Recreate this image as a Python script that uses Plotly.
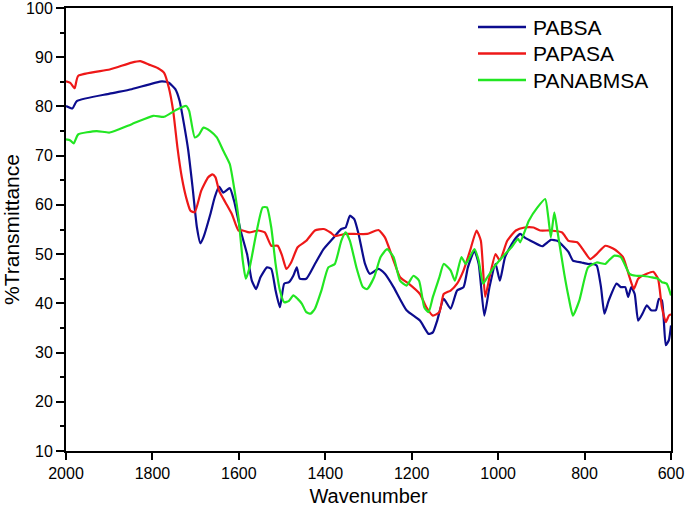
import plotly.graph_objects as go

# ---- data ----
pabsa_x = [2000, 1985, 1975, 1899, 1848, 1778, 1762, 1747, 1737, 1727, 1717, 1707, 1697, 1689, 1682,
           1666, 1656, 1646, 1636, 1621, 1611, 1596, 1581, 1570, 1560, 1550, 1535, 1525, 1515, 1505,
           1495, 1484, 1474, 1466, 1459, 1444, 1424, 1404, 1383, 1363, 1353, 1343, 1333, 1323, 1308,
           1297, 1277, 1262, 1242, 1212, 1181, 1161, 1151, 1141, 1126, 1110, 1095, 1080, 1070, 1055,
           1045, 1032, 1020, 1006, 996, 984, 964, 949, 939, 918, 898, 878, 863, 847, 837, 827, 807,
           792, 782, 772, 762, 754, 744, 726, 716, 706, 699, 692, 684, 676, 666, 656, 646, 635, 628,
           621, 612, 605, 600]
pabsa_y = [80.1, 79.6, 81.1, 82.6, 83.5, 85.1, 84.8, 83.5, 81.1, 76.4, 71.0, 63.5, 55.4, 52.2, 53.4,
           58.1, 61.5, 63.7, 62.5, 63.4, 60.8, 54.8, 50.0, 44.6, 42.9, 45.3, 47.3, 47.0, 42.6, 39.2,
           44.0, 44.3, 45.6, 47.3, 45.0, 45.0, 48.0, 51.0, 53.1, 55.1, 55.4, 57.8, 57.1, 54.1, 48.0,
           46.0, 47.0, 46.0, 43.3, 38.6, 36.5, 33.8, 34.1, 36.5, 40.9, 38.9, 42.6, 43.3, 47.3, 50.7,
           48.0, 37.5, 43.3, 48.0, 44.6, 49.4, 52.7, 54.1, 53.4, 52.4, 51.6, 52.9, 52.7, 51.4, 50.4,
           48.7, 48.3, 48.0, 48.0, 47.7, 43.3, 37.9, 40.6, 44.0, 43.3, 43.3, 41.3, 43.3, 41.9, 36.5,
           37.9, 39.6, 38.6, 38.6, 40.9, 40.6, 31.5, 32.5, 35.5]

papasa_x = [2000, 1990, 1980, 1972, 1899, 1848, 1828, 1808, 1788, 1773, 1762, 1752, 1742, 1732, 1722,
            1712, 1702, 1687, 1671, 1661, 1654, 1646, 1631, 1616, 1601, 1591, 1576, 1555, 1540, 1525,
            1510, 1500, 1490, 1479, 1464, 1444, 1424, 1404, 1388, 1378, 1353, 1333, 1303, 1277, 1262,
            1242, 1227, 1207, 1181, 1166, 1151, 1136, 1126, 1110, 1095, 1080, 1065, 1050, 1040, 1030,
            1020, 1006, 996, 979, 959, 939, 918, 903, 878, 852, 837, 817, 802, 787, 772, 752, 731, 711,
            696, 686, 676, 656, 641, 630, 621, 612, 605, 600]
papasa_y = [85.1, 84.8, 83.7, 86.2, 87.5, 88.9, 89.2, 88.5, 87.8, 86.8, 83.8, 79.1, 71.6, 65.6, 61.5,
            58.8, 58.5, 62.9, 65.6, 66.2, 65.6, 62.9, 60.5, 58.1, 54.8, 54.8, 54.4, 54.8, 54.4, 51.7,
            51.7, 49.7, 47.0, 48.3, 51.4, 52.7, 54.8, 55.1, 54.4, 53.7, 54.1, 54.1, 54.1, 54.9, 53.4,
            48.7, 45.3, 44.0, 41.9, 39.2, 37.5, 38.2, 41.9, 42.6, 44.0, 46.7, 50.7, 54.8, 52.7, 41.3,
            45.3, 50.0, 48.7, 52.7, 54.8, 55.4, 55.4, 54.8, 54.8, 54.4, 52.7, 52.4, 50.7, 49.0, 50.0,
            51.7, 51.0, 49.4, 45.3, 42.9, 45.0, 46.0, 46.4, 45.0, 39.2, 36.2, 37.5, 37.8]

panabmsa_x = [2000, 1990, 1982, 1972, 1929, 1899, 1848, 1798, 1773, 1747, 1722, 1715, 1702, 1692, 1682,
              1666, 1651, 1636, 1621, 1611, 1601, 1591, 1584, 1575, 1560, 1545, 1535, 1525, 1515, 1505,
              1495, 1484, 1474, 1464, 1454, 1444, 1434, 1424, 1409, 1393, 1378, 1363, 1353, 1343, 1328,
              1313, 1303, 1287, 1272, 1257, 1242, 1227, 1212, 1196, 1183, 1171, 1161, 1151, 1136, 1126,
              1110, 1100, 1085, 1075, 1055, 1045, 1035, 1025, 1010, 990, 969, 954, 949, 929, 909, 891,
              884, 878, 870, 863, 847, 837, 827, 812, 792, 772, 752, 744, 731, 716, 696, 681, 666, 646,
              630, 621, 610, 600]
panabmsa_y = [73.3, 73.1, 72.5, 74.3, 75.0, 74.7, 76.4, 78.1, 77.9, 79.2, 80.1, 79.1, 73.7, 74.3, 75.7,
              75.0, 73.7, 71.0, 68.3, 63.5, 57.5, 48.7, 45.0, 47.3, 54.1, 59.5, 59.5, 55.4, 48.0, 42.6,
              40.2, 40.5, 41.6, 40.9, 39.9, 38.2, 37.9, 38.9, 42.6, 47.3, 48.0, 52.7, 54.4, 52.7, 47.3,
              43.3, 42.9, 45.3, 49.4, 51.0, 49.4, 44.6, 43.6, 45.6, 44.6, 39.2, 38.2, 41.3, 45.3, 48.0,
              46.7, 44.6, 49.4, 48.0, 51.0, 48.7, 44.0, 45.3, 47.3, 49.4, 51.4, 53.1, 52.4, 56.8, 59.5,
              61.2, 57.5, 53.4, 58.5, 54.8, 46.0, 41.3, 37.5, 40.6, 47.3, 48.3, 48.0, 48.7, 49.7, 49.4,
              46.0, 45.6, 45.6, 45.3, 45.0, 44.3, 44.0, 41.6]

series_names = ["PABSA", "PAPASA", "PANABMSA"]
x_ticks = [2000, 1800, 1600, 1400, 1200, 1000, 800, 600]
y_ticks = [10, 20, 30, 40, 50, 60, 70, 80, 90, 100]

colors = ["#0c0c8e", "#ee1818", "#22e622"]

W, H = 685, 510
L, R, T, B = 66, 14, 8, 59
PW, PH = W - L - R, H - T - B


def px_to_paper(px, py):
    return (px - L) / PW, (H - B - py) / PH


fig = go.Figure()
for name, xs, ys, c in zip(series_names, [pabsa_x, papasa_x, panabmsa_x],
                           [pabsa_y, papasa_y, panabmsa_y], colors):
    fig.add_trace(go.Scatter(x=xs, y=ys, mode="lines", name=name, showlegend=False,
                             line=dict(color=c, width=2.2, shape="spline", smoothing=0.5)))

# manual legend (long line samples, as in the reference)
legend_rows = [27, 53.5, 80]
for name, c, ry in zip(series_names, colors, legend_rows):
    x0, yy = px_to_paper(478, ry)
    x1, _ = px_to_paper(526, ry)
    xt, _ = px_to_paper(531, ry)
    fig.add_shape(type="line", xref="paper", yref="paper", x0=x0, x1=x1, y0=yy, y1=yy,
                  line=dict(color=c, width=2.5))
    fig.add_annotation(xref="paper", yref="paper", x=xt, y=yy, text=name, showarrow=False,
                       xanchor="left", yanchor="middle",
                       font=dict(family="Liberation Sans, Arial, sans-serif", size=21, color="black"))

font = "Liberation Sans, Arial, sans-serif"
fig.update_layout(
    width=W, height=H,
    margin=dict(l=L, r=R, t=T, b=B),
    paper_bgcolor="white", plot_bgcolor="white",
    showlegend=False,
    xaxis=dict(range=[2000, 600], tickvals=x_ticks, ticktext=[str(v) for v in x_ticks],
               automargin=False, ticklabeloverflow="allow",
               showgrid=False, zeroline=False, showline=True, linecolor="black", linewidth=2,
               mirror=True, ticks="outside", ticklen=7, tickwidth=1.5, tickcolor="black",
               tickfont=dict(family=font, size=16, color="black"),
               title=dict(text="Wavenumber", font=dict(family=font, size=20, color="black"),
                          standoff=8)),
    yaxis=dict(range=[10, 100], tickvals=y_ticks, ticktext=[str(v) for v in y_ticks],
               automargin=False, ticklabeloverflow="allow",
               showgrid=False, zeroline=False, showline=True, linecolor="black", linewidth=2,
               mirror=True, ticks="outside", ticklen=8, tickwidth=1.5, tickcolor="black",
               minor=dict(dtick=5, ticks="outside", ticklen=4, tickwidth=1.5, tickcolor="black",
                          showgrid=False),
               tickfont=dict(family=font, size=16, color="black"),
               title=dict(text="%Transmittance", font=dict(family=font, size=21, color="black"),
                          standoff=4)),
)

fig.write_html("out.html", config={"displayModeBar": False},
               post_script="document.body.style.margin='0';document.body.style.overflow='hidden';")
